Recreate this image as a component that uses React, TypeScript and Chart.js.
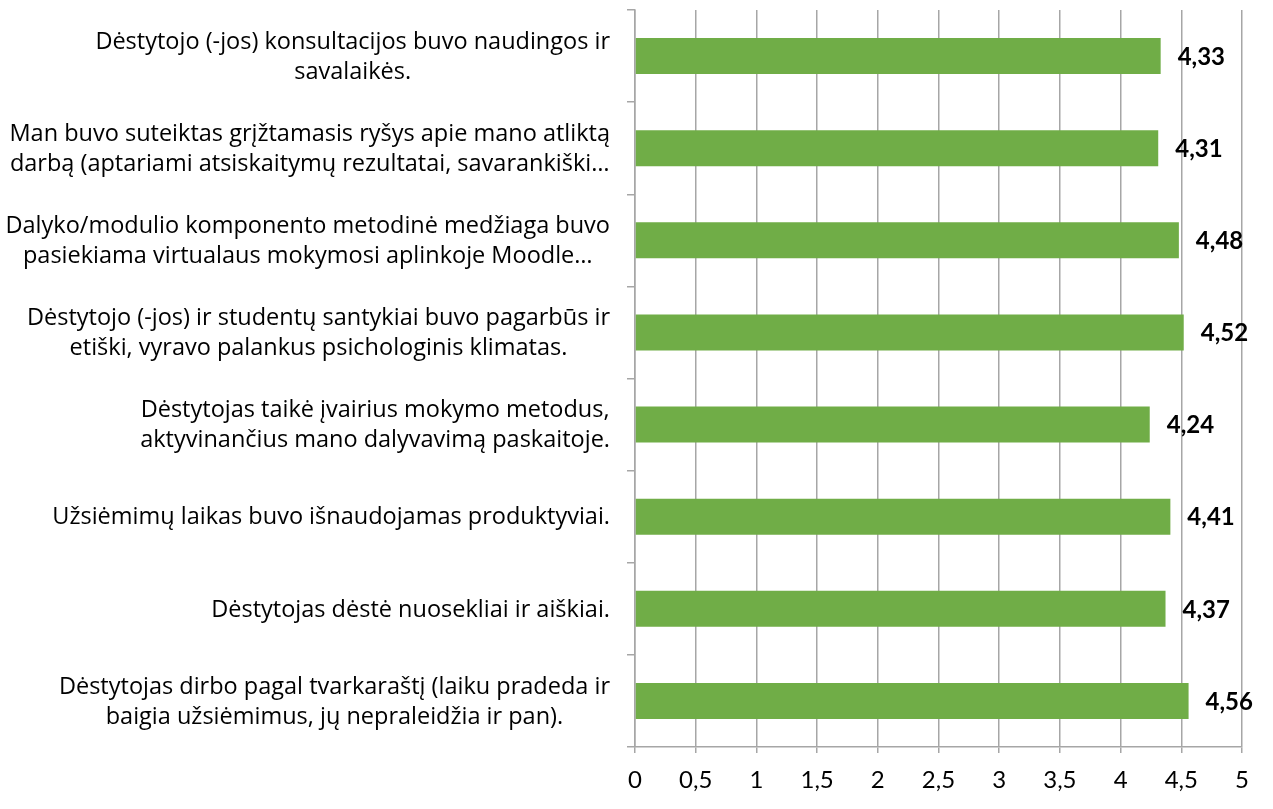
import React, { useEffect, useRef } from "react";
import { Chart, registerables } from "chart.js";

Chart.register(...registerables);

const categories: string[][] = [
  ["Dėstytojo (-jos) konsultacijos buvo naudingos ir", "savalaikės."],
  ["Man buvo suteiktas grįžtamasis ryšys apie mano atliktą", "darbą (aptariami atsiskaitymų rezultatai, savarankiški…"],
  ["Dalyko/modulio komponento metodinė medžiaga buvo", "pasiekiama virtualaus mokymosi aplinkoje Moodle…"],
  ["Dėstytojo (-jos) ir studentų santykiai buvo pagarbūs ir", "etiški, vyravo palankus psichologinis klimatas."],
  ["Dėstytojas taikė įvairius mokymo metodus,", "aktyvinančius mano dalyvavimą paskaitoje."],
  ["Užsiėmimų laikas buvo išnaudojamas produktyviai."],
  ["Dėstytojas dėstė nuosekliai ir aiškiai."],
  ["Dėstytojas dirbo pagal tvarkaraštį (laiku pradeda ir", "baigia užsiėmimus, jų nepraleidžia ir pan)."],
];

const values: number[] = [4.33, 4.31, 4.48, 4.52, 4.24, 4.41, 4.37, 4.56];

const LABEL_FONT = "'Open Sans', 'Noto Sans', sans-serif";
const NUM_FONT = "Lato, 'Noto Sans', sans-serif";
const LABEL_SIZE = 23.5;
const LINE_H = 30;

const fmt = (v: number, d: number) => v.toFixed(d).replace(".", ",");

const yLabelPlugin = {
  id: "yLabelPlugin",
  afterDraw(chart: any) {
    const ctx = chart.ctx;
    const y = chart.scales.y;
    ctx.save();
    ctx.font = `${LABEL_SIZE}px ${LABEL_FONT}`;
    ctx.fillStyle = "#000";
    ctx.textAlign = "center";
    ctx.textBaseline = "middle";
    const right = y.right - 8 - 17;
    categories.forEach((lines, i) => {
      const cy = y.getPixelForValue(i) + 1;
      const maxW = Math.max(...lines.map((l) => ctx.measureText(l).width));
      const cx = right - maxW / 2;
      const startY = cy - ((lines.length - 1) * LINE_H) / 2;
      lines.forEach((l, j) => ctx.fillText(l, cx, startY + j * LINE_H));
    });
    ctx.restore();
  },
};

const valueLabelPlugin = {
  id: "valueLabelPlugin",
  afterDatasetsDraw(chart: any) {
    const ctx = chart.ctx;
    const meta = chart.getDatasetMeta(0);
    ctx.save();
    ctx.font = `bold 24px ${NUM_FONT}`;
    ctx.fillStyle = "#000";
    ctx.textAlign = "left";
    ctx.textBaseline = "middle";
    meta.data.forEach((bar: any, i: number) => {
      ctx.fillText(fmt(values[i], 2), bar.x + 17, bar.y + 1);
    });
    ctx.restore();
  },
};

export default function App() {
  const ref = useRef<HTMLCanvasElement>(null);
  useEffect(() => {
    if (!ref.current) return;
    const chart = new Chart(ref.current, {
      type: "bar",
      data: {
        labels: categories.map((c) => c.join(" ")),
        datasets: [
          {
            data: values,
            backgroundColor: "#70AD47",
            borderWidth: 0,
            barPercentage: 0.39,
            categoryPercentage: 1,
          },
        ],
      },
      options: {
        indexAxis: "y",
        animation: false,
        responsive: true,
        maintainAspectRatio: false,
        layout: { padding: { top: 10, right: 31, left: 0, bottom: 0 } },
        plugins: { legend: { display: false }, tooltip: { enabled: false } },
        scales: {
          x: {
            min: 0,
            max: 5,
            ticks: {
              stepSize: 0.5,
              color: "#000",
              font: { family: NUM_FONT, size: 24 },
              padding: 13,
              callback: (v: any) => fmt(Number(v), Number.isInteger(Number(v)) ? 0 : 1),
            },
            grid: { color: "#A6A6A6", lineWidth: 1.5, tickLength: 6 },
            border: { color: "#A6A6A6", width: 1.5 },
            afterFit: (s: any) => {
              s.height = 62;
            },
          },
          y: {
            offset: true,
            ticks: { display: false },
            grid: {
              offset: true,
              drawOnChartArea: false,
              color: "#A6A6A6",
              lineWidth: 1.5,
              tickLength: 8,
            },
            border: { color: "#A6A6A6", width: 1.5 },
            afterFit: (s: any) => {
              s.width = 635;
            },
          },
        },
      },
      plugins: [yLabelPlugin, valueLabelPlugin],
    });
    return () => chart.destroy();
  }, []);
  return (
    <div style={{ position: "absolute", left: 0, top: 0, width: 1273, height: 809 }}>
      <canvas ref={ref} />
    </div>
  );
}
